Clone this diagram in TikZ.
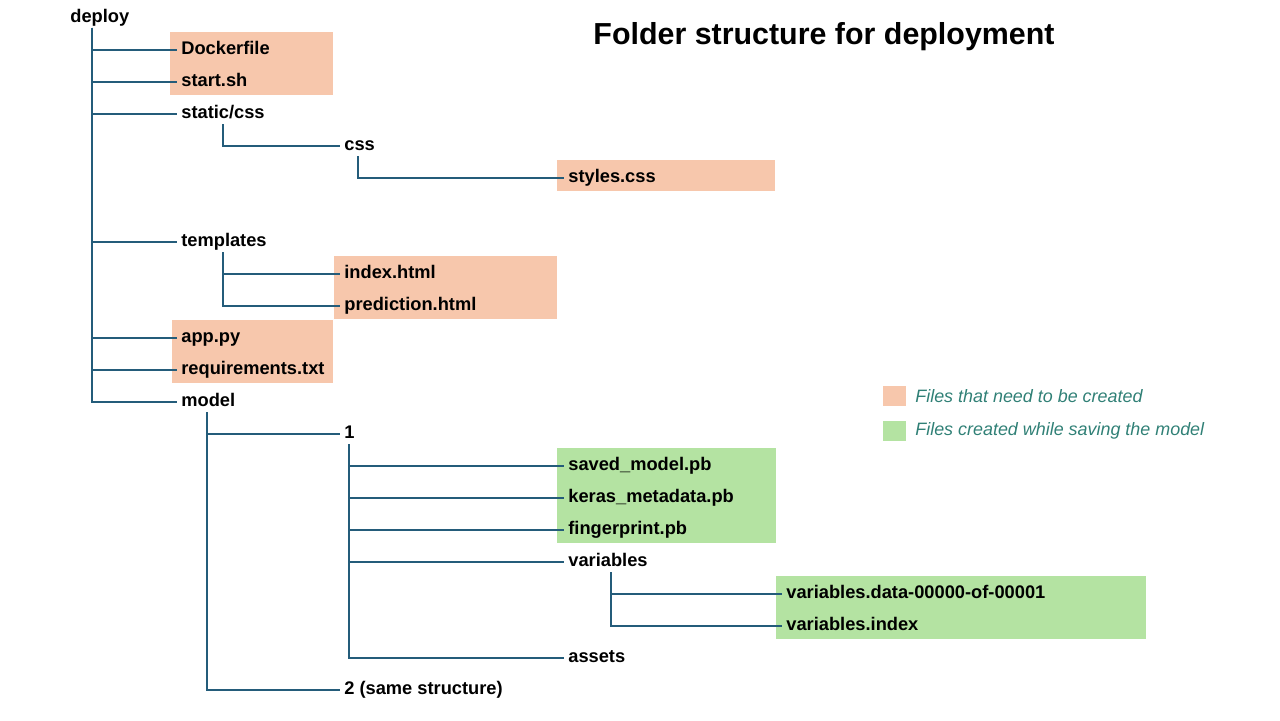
\documentclass[tikz,border=0pt]{standalone}
\usepackage{fontspec}
\setmainfont{Liberation Sans}
\definecolor{peach}{RGB}{247,199,172}
\definecolor{leaf}{RGB}{180,227,162}
\definecolor{branchblue}{RGB}{36,92,122}
\definecolor{legendteal}{RGB}{48,128,118}
\begin{document}
\begin{tikzpicture}[%
      x=0.02cm,y=-0.02cm,
      item/.style={anchor=west,inner xsep=0.08cm,inner ysep=0pt,text height=1.3ex,text depth=0.3ex,font=\fontsize{10.4}{12}\selectfont\bfseries},
      note/.style={anchor=west,inner xsep=0.08cm,inner ysep=0pt,text=legendteal,font=\fontsize{10.2}{12}\selectfont\itshape},
      branch/.style={draw=branchblue,line width=1.1pt},
      made/.style={fill=peach},
      saved/.style={fill=leaf}
      ]
      \useasboundingbox (0,0) rectangle (1280,720);
      % shaded groups
      \fill[made] (170,32) rectangle (333,95);
      \fill[made] (557,160) rectangle (775,191);
      \fill[made] (334,256) rectangle (557,319);
      \fill[made] (172,320) rectangle (333,383);
      \fill[saved] (557,448) rectangle (776,543);
      \fill[saved] (776,576) rectangle (1146,639);
      % title
      \draw (824,37) node[font=\fontsize{17.3}{20}\selectfont\bfseries] (title) {Folder structure for deployment};
      % tree
      \begin{scope}[yshift=-0.04cm]
      \draw (66,16) node[item] (deploy) {deploy};
      \draw (177,48) node[item] (dock) {Dockerfile};
      \draw (177,80) node[item] (start) {start.sh};
      \draw (177,112) node[item] (static) {static/css};
      \draw (340,144) node[item] (css) {css};
      \draw (564,176) node[item] (styles) {styles.css};
      \draw (177,240) node[item] (templ) {templates};
      \draw (340,272) node[item] (index) {index.html};
      \draw (340,304) node[item] (pred) {prediction.html};
      \draw (177,336) node[item] (app) {app.py};
      \draw (177,368) node[item] (req) {requirements.txt};
      \draw (177,400) node[item] (model) {model};
      \draw (340,432) node[item] (one) {1};
      \draw (564,464) node[item] (savedpb) {saved\_model.pb};
      \draw (564,496) node[item] (keras) {keras\_metadata.pb};
      \draw (564,528) node[item] (finger) {fingerprint.pb};
      \draw (564,560) node[item] (vars) {variables};
      \draw (782,592) node[item] (vdata) {variables.data-00000-of-00001};
      \draw (782,624) node[item] (vindex) {variables.index};
      \draw (564,656) node[item] (assets) {assets};
      \draw (340,688) node[item] (two) {2 (same structure)};
      % trunks
      \coordinate (deployT) at (92,26);
      \coordinate (staticT) at (223,122);
      \coordinate (cssT) at (358,154);
      \coordinate (templT) at (223,250);
      \coordinate (modelT) at (207,410);
      \coordinate (oneT) at (349,442);
      \coordinate (varsT) at (611,570);
      \end{scope}
      \foreach \c in {dock,start,static,templ,app,req,model}
        \draw[branch] (deployT) |- (\c.west);
      \draw[branch] (staticT) |- (css.west);
      \draw[branch] (cssT) |- (styles.west);
      \foreach \c in {index,pred}
        \draw[branch] (templT) |- (\c.west);
      \foreach \c in {one,two}
        \draw[branch] (modelT) |- (\c.west);
      \foreach \c in {savedpb,keras,finger,vars,assets}
        \draw[branch] (oneT) |- (\c.west);
      \foreach \c in {vdata,vindex}
        \draw[branch] (varsT) |- (\c.west);
      % legend
      \fill[made] (883,386) rectangle (906,406);
      \fill[saved] (883,421) rectangle (906,441);
      \draw (911,396) node[note] (needed) {Files that need to be created};
      \draw (911,431) node[note] (created) {Files created while saving the model};
\end{tikzpicture}
\end{document}
